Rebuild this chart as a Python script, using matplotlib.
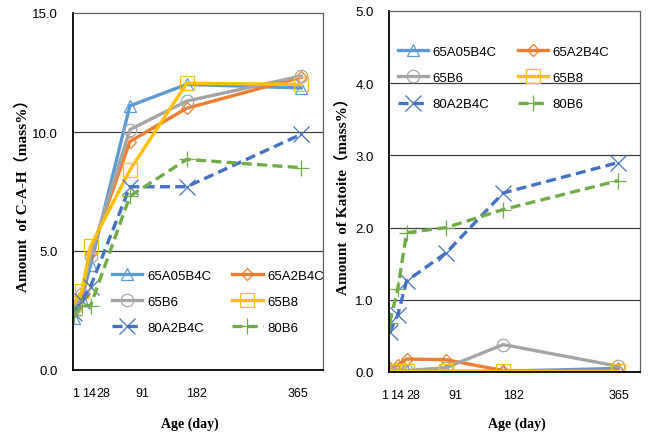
import matplotlib
matplotlib.use('Agg')
import matplotlib.pyplot as plt
from matplotlib.transforms import ScaledTranslation, blended_transform_factory

days = [1, 14, 28, 91, 182, 365]
tick_days = [1, 14, 28, 91, 182, 365]
names = ['65A05B4C', '65A2B4C', '65B6', '65B8', '80A2B4C', '80B6']

# C-A-H amount (mass%)
cah_65A05B4C = [2.2, 3.0, 4.4, 11.1, 12.0, 11.85]
cah_65A2B4C = [2.5, 3.1, 4.9, 9.6, 11.0, 12.3]
cah_65B6 = [2.6, 3.2, 4.8, 10.1, 11.3, 12.35]
cah_65B8 = [2.8, 3.3, 5.2, 8.4, 12.05, 12.0]
cah_80A2B4C = [2.4, 2.9, 3.5, 7.7, 7.7, 9.9]
cah_80B6 = [2.3, 2.7, 2.7, 7.3, 8.85, 8.5]

# Katoite amount (mass%)
kat_65A05B4C = [0.01, 0.01, 0.01, 0.01, 0.01, 0.05]
kat_65A2B4C = [0.05, 0.1, 0.18, 0.17, 0.02, 0.02]
kat_65B6 = [0.02, 0.03, 0.02, 0.06, 0.38, 0.08]
kat_65B8 = [0.02, 0.02, 0.02, 0.02, 0.02, 0.02]
kat_80A2B4C = [0.55, 0.79, 1.26, 1.65, 2.48, 2.9]
kat_80B6 = [0.68, 1.15, 1.93, 2.0, 2.25, 2.65]

cah = [cah_65A05B4C, cah_65A2B4C, cah_65B6, cah_65B8, cah_80A2B4C, cah_80B6]
kat = [kat_65A05B4C, kat_65A2B4C, kat_65B6, kat_65B8, kat_80A2B4C, kat_80B6]

colors = ['#5B9BD5', '#ED7D31', '#A5A5A5', '#FFC000', '#4472C4', '#70AD47']
markers = ['^', 'D', 'o', 's', 'x', '+']
msizes = [9, 6, 9, 10, 11, 12]
styles = ['-', '-', '-', '-', (0, (3, 1.6)), (0, (3, 1.6))]

# the age labels sit a little off their ticks in the original (pixels)
shift_left = [2, 7, 13, 13, 10, -3]
shift_right = [-5, -1, 7, 9, 10, 1]

tick_font = ['Liberation Sans', 'DejaVu Sans']
label_font = ['Liberation Serif', 'Noto Sans CJK JP']

fig = plt.figure(figsize=(6.48, 4.35), dpi=100)
ax1 = fig.add_axes([73/648, 1-371/435, 250/648, 357/435])
ax2 = fig.add_axes([389/648, 1-373/435, 251/648, 361/435])


def draw(ax, data, ymax, ystep, ylabel, shifts, leg_anchor, ylab_x, xlab_x, xlab_y):
    for vals, name, c, m, ms, ls in zip(data, names, colors, markers, msizes, styles):
        ax.plot(days, vals, color=c, linestyle=ls, linewidth=2.4, marker=m,
                markersize=ms, markerfacecolor='none', markeredgecolor=c,
                markeredgewidth=0.9, label=name)
    ax.set_xlim(0, 400)
    ax.set_ylim(0, ymax)
    yt = [i * ystep for i in range(int(round(ymax / ystep)) + 1)]
    ax.set_yticks(yt)
    ax.set_yticklabels(['%.1f' % v for v in yt], family=tick_font, fontsize=9.5)
    ax.set_xticks(tick_days)
    ax.set_xticklabels([])
    trans = blended_transform_factory(ax.transData, ax.transAxes)
    for d, dx in zip(tick_days, shifts):
        ax.text(d, 0, str(d), family=tick_font, fontsize=9, ha='center', va='top',
                transform=trans + ScaledTranslation(dx / 100, -0.17, fig.dpi_scale_trans))
    ax.tick_params(length=0)
    ax.tick_params(axis='y', pad=11)
    for v in yt[1:-1]:
        ax.axhline(v, color='#404040', linewidth=0.9, zorder=0.5)
    ax.spines['left'].set_color('black')
    ax.spines['left'].set_linewidth(1.3)
    ax.spines['bottom'].set_color('black')
    ax.spines['bottom'].set_linewidth(1.3)
    for s in ['top', 'right']:
        ax.spines[s].set_color('#606060')
        ax.spines[s].set_linewidth(0.9)
    ax.set_xlabel('Age (day)', family=label_font, fontweight='bold', fontsize=10)
    ax.xaxis.set_label_coords(xlab_x, xlab_y)
    ax.set_ylabel(ylabel, family=label_font, fontweight='bold', fontsize=11)
    ax.yaxis.set_label_coords(ylab_x, 0.5)
    h, l = ax.get_legend_handles_labels()
    order = [0, 2, 4, 1, 3, 5]
    ax.legend([h[i] for i in order], [l[i] for i in order], loc='upper left',
              bbox_to_anchor=leg_anchor, ncol=2, frameon=False, borderpad=0,
              handlelength=2.3, handletextpad=0.35, columnspacing=1.6,
              labelspacing=1.05, prop={'family': tick_font, 'size': 9.5})


draw(ax1, cah, 15, 5, 'Amount  of C-A-H（mass%）', shift_left, (0.13, 0.30), -0.176, 0.468, -0.129)
draw(ax2, kat, 5, 1, 'Amount  of Katoite（mass%）', shift_right, (0.008, 0.922), -0.159, 0.51, -0.122)

fig.savefig('out.png', dpi=100)
